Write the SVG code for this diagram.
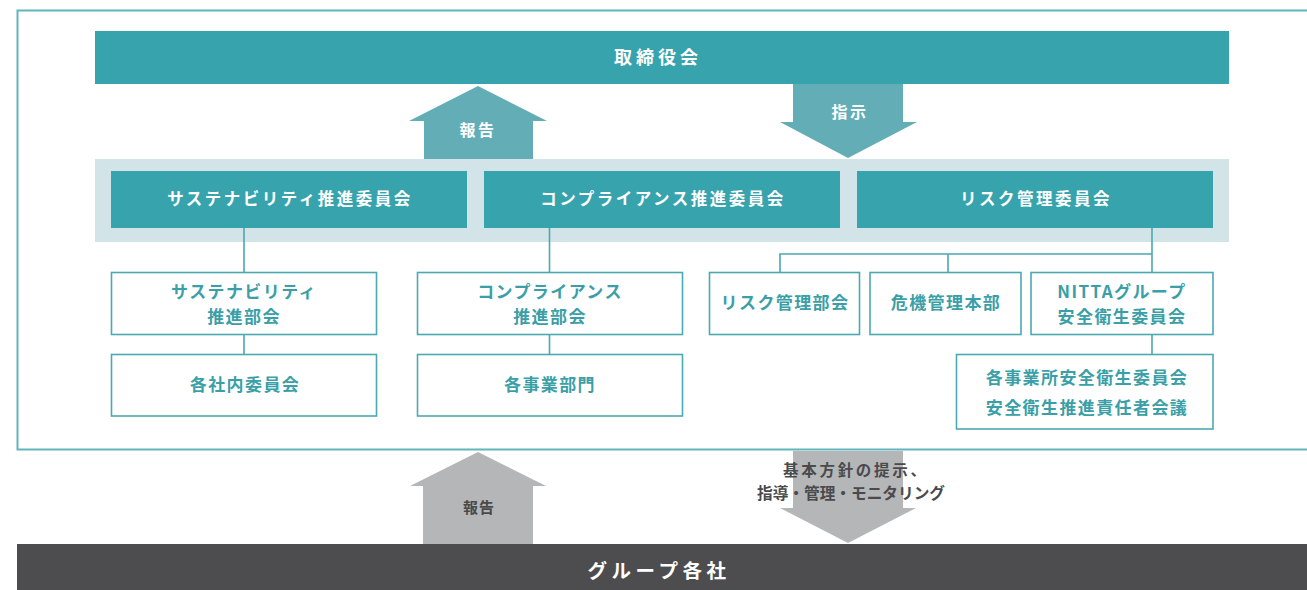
<svg xmlns="http://www.w3.org/2000/svg" width="1307" height="590" viewBox="0 0 1307 590">
<style>
text{font-family:"Noto Sans CJK JP","Noto Sans",sans-serif;font-weight:700;text-anchor:middle}
.wt{fill:#ffffff;font-size:16.5px;letter-spacing:2.5px}
.tt{fill:#3a9fa7;font-size:17px;letter-spacing:1.4px}
.gt{fill:#4a4a4c;font-size:15.5px}
.solid{fill:#37a3ad}
.sub{fill:#ffffff;stroke:#4aa9b1;stroke-width:1.6}
.conn{stroke:#4aa9b1;stroke-width:1.6;fill:none}
</style>
<rect width="1307" height="590" fill="#ffffff"/>
<path d="M1307 10.5 H17.5 V449.5 H1307" fill="none" stroke="#62b5bb" stroke-width="2"/>
<g id="board">
<rect class="solid" x="95" y="31" width="1134" height="53"/>
<text x="658" y="64" class="wt" style="font-size:18px;letter-spacing:4px">取締役会</text>
</g>
<g id="arrows">
<polygon points="409,121 478,86 547,121 533,121 533,159 424,159 424,121" fill="#63aeb6"/>
<text x="478" y="136" class="wt" style="font-size:16px">報告</text>
<polygon points="793,84 903,84 903,122 917,122 848,158 780,122 793,122" fill="#63aeb6"/>
<text x="850" y="118" class="wt" style="font-size:16px">指示</text>
<polygon points="410,486 478,452 546,486 533,486 533,544 423,544 423,486" fill="#b5b6b8"/>
<text x="479" y="513" class="gt" style="font-size:15px;letter-spacing:1px">報告</text>
<polygon points="793,451 903,451 903,508 916,508 848,543 780,508 793,508" fill="#b5b6b8"/>
<text x="783" y="476" class="gt" style="text-anchor:start" textLength="143" lengthAdjust="spacing">基本方針の提示、</text>
<text x="757" y="499" class="gt" style="text-anchor:start" textLength="188" lengthAdjust="spacingAndGlyphs">指導・管理・モニタリング</text>
</g>
<rect x="95" y="159" width="1134" height="83" fill="#d2e4e7"/>
<g id="connectors">
<path class="conn" d="M244 228 V272 M244 335 V354 M549.5 228 V272 M549.5 335 V354 M1152 228 V272 M780 272 V254 H1152 M948 254 V272 M1152 335 V354"/>
</g>
<g id="sustainability-committee">
<rect class="solid" x="111" y="171" width="356" height="57"/>
<text x="290" y="205" class="wt">サステナビリティ推進委員会</text>
</g>
<g id="compliance-committee">
<rect class="solid" x="484" y="171" width="356" height="57"/>
<text x="663" y="205" class="wt">コンプライアンス推進委員会</text>
</g>
<g id="risk-committee">
<rect class="solid" x="857" y="171" width="356" height="57"/>
<text x="1036" y="205" class="wt">リスク管理委員会</text>
</g>
<g id="sustainability-subcommittee">
<rect class="sub" x="111.5" y="272.5" width="265" height="62"/>
<text x="244" y="298" class="tt">サステナビリティ</text>
<text x="244" y="323" class="tt">推進部会</text>
</g>
<g id="internal-committees">
<rect class="sub" x="111.5" y="354.5" width="265" height="61.5"/>
<text x="245" y="391" class="tt">各社内委員会</text>
</g>
<g id="compliance-subcommittee">
<rect class="sub" x="417.5" y="272.5" width="265" height="62"/>
<text x="550" y="298" class="tt">コンプライアンス</text>
<text x="550" y="323" class="tt">推進部会</text>
</g>
<g id="business-divisions">
<rect class="sub" x="417.5" y="354.5" width="265" height="61.5"/>
<text x="550" y="391" class="tt">各事業部門</text>
</g>
<g id="risk-subcommittee">
<rect class="sub" x="709.5" y="272.5" width="150" height="62"/>
<text x="785" y="309" class="tt">リスク管理部会</text>
</g>
<g id="crisis-hq">
<rect class="sub" x="870" y="272.5" width="151" height="62"/>
<text x="946" y="309" class="tt">危機管理本部</text>
</g>
<g id="nitta-safety">
<rect class="sub" x="1031" y="272.5" width="182" height="62"/>
<text x="1122" y="298" class="tt">NITTAグループ</text>
<text x="1122" y="323" class="tt">安全衛生委員会</text>
</g>
<g id="site-safety">
<rect class="sub" x="956.5" y="354.5" width="256.5" height="74.5"/>
<text x="1087" y="384" class="tt">各事業所安全衛生委員会</text>
<text x="1087" y="414" class="tt">安全衛生推進責任者会議</text>
</g>
<g id="group-companies">
<rect x="17" y="544" width="1290" height="46" fill="#4d4d4f"/>
<text x="659" y="578" class="wt" style="font-size:19.5px;letter-spacing:4.5px">グループ各社</text>
</g>
</svg>
